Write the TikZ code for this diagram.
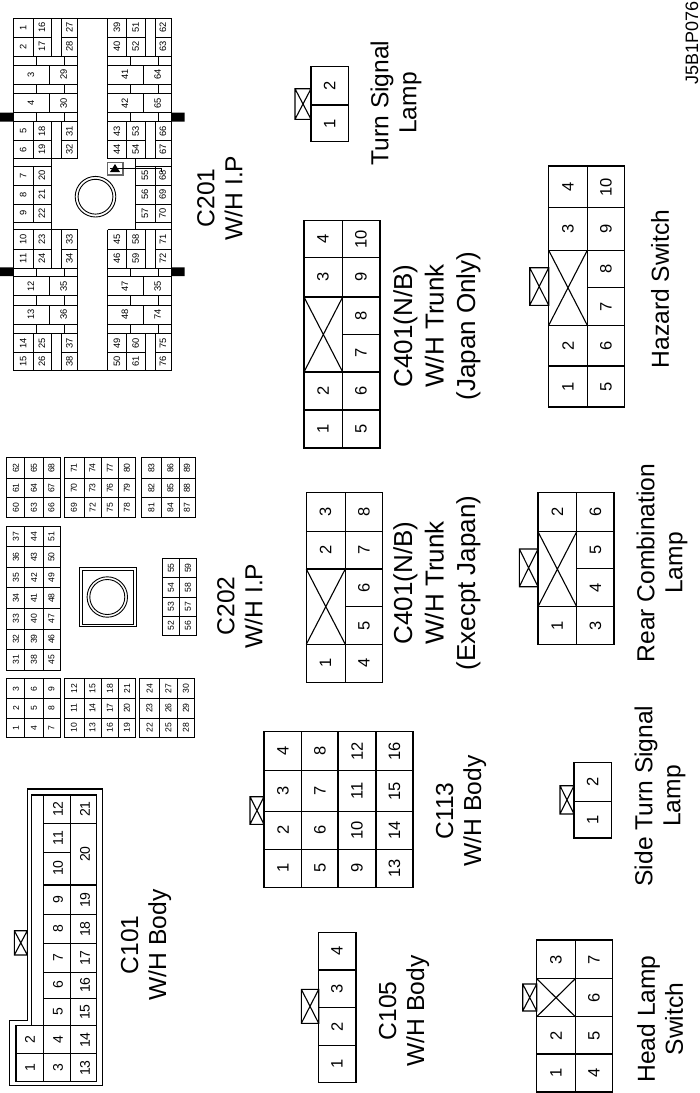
\documentclass[tikz,border=0pt]{standalone}
\usepackage{fontspec}
\setmainfont{Liberation Sans}
\newcommand\fsz[2]{\fontsize{#1}{#2}\selectfont}
\tikzset{
  x=1pt,y=-1pt,
  ln/.style={line width=0.9pt,draw=black},
  lnb/.style={line width=1.1pt,draw=black},
  pinA/.style={rotate=90,inner sep=0pt,font=\fsz{9.3}{10}},
  pinC/.style={rotate=90,inner sep=0pt,font=\fsz{8.6}{9}},
  pinB/.style={rotate=90,inner sep=0pt,font=\fsz{14}{15}},
  pinD/.style={rotate=90,inner sep=0pt,font=\fsz{16.5}{17}},
  caption/.style={rotate=90,inner sep=0pt,align=center,font=\fsz{24.6}{28}},
  captionL/.style={rotate=90,inner sep=0pt,align=center,font=\fsz{26}{31.5}},
}
% rows of labels: y, then x/text pairs
\newcommand\rowA[2]{\foreach \x/\t in {#2}{\node[pinA] at (\x,#1) {\t};}}
\newcommand\rowC[2]{\foreach \x/\t in {#2}{\node[pinC] at (\x,#1) {\t};}}
\newcommand\rowB[2]{\foreach \x/\t in {#2}{\node[pinB] at (\x,#1) {\t};}}
\newcommand\rowD[2]{\foreach \x/\t in {#2}{\node[pinD] at (\x,#1) {\t};}}
% tab with a cross
\newcommand\xtab[4]{\draw[lnb] (#1,#2) rectangle (#3,#4) (#1,#2) -- (#3,#4) (#1,#4) -- (#3,#2);}
% grid: x-lines, y-lines
\newcommand\hl[3]{\draw[ln] (#2,#1) -- (#3,#1);}
\newcommand\vl[3]{\draw[ln] (#1,#2) -- (#1,#3);}
\newcommand\hb[3]{\draw[lnb] (#2,#1) -- (#3,#1);}
\newcommand\vb[3]{\draw[lnb] (#1,#2) -- (#1,#3);}
\begin{document}
\begin{tikzpicture}
\path[use as bounding box,fill=white] (0,0) rectangle (700,1093);

%% ---- C201 ----
\draw[ln] (13.5,18.5) rectangle (171,370);
\foreach \a/\b in {18.5/158.5,229.5/370}{\vl{77.5}{\a}{\b}\vl{107.5}{\a}{\b}}
% full-width horizontals of both halves
\foreach \y in {56,65,84.5,93.5,112.5,121.5,158.5,229.5,268,276,295.7,305,324.3,333.5}{\hl{\y}{13.5}{77.5}\hl{\y}{107.5}{171}}
% pin rows with gap
\foreach \y in {37,140.5,249,352}{\hl{\y}{13.5}{51}\hl{\y}{61}{77.5}\hl{\y}{107.5}{145}\hl{\y}{155}{171}}
% centre blocks
\foreach \y in {166.5,185,204,222}{\hl{\y}{13.5}{51}\hl{\y}{135}{171}}
\vl{51}{158.5}{229.5}\vl{33}{166.5}{222}
\vl{135}{158.5}{229.5}\vl{155}{166.5}{222}
% pin columns
\foreach \a/\b in {18.5/56,121.5/158.5,229.5/268,333.5/370}{\vl{33}{\a}{\b}\vl{51}{\a}{\b}\vl{61}{\a}{\b}\vl{126.5}{\a}{\b}\vl{145}{\a}{\b}\vl{155}{\a}{\b}}
% band ticks
\foreach \a/\b in {56/65,84.5/93.5,112.5/121.5,268/276,295.7/305,324.3/333.5}{\vl{36.5}{\a}{\b}\vl{64.5}{\a}{\b}\vl{130.5}{\a}{\b}\vl{158}{\a}{\b}}
\foreach \a/\b in {65/84.5,93.5/112.5,276/295.7,305/324.3}{\vl{49.5}{\a}{\b}\vl{143}{\a}{\b}}
% black tabs
\fill[black] (0,112.5) rectangle (13.5,121.5) (171,112.5) rectangle (184.5,121.5) (0,267.3) rectangle (13.5,276) (171,267.3) rectangle (184.5,276);
% centre circle
\draw[ln] (95.5,196.7) circle[radius=20.3] (95.5,196.7) circle[radius=17.4];
% diode mark
\draw[line width=1.1pt,draw=black!60,fill=white] (107.5,162.3) rectangle (123,175);
\fill[black] (115,164) -- (120,172) -- (110,172) -- cycle;
\draw[line width=0.8pt] (110,168.3) -- (161.7,168.3) -- (161.7,171.5);
% labels
\rowA{27.5}{23.2/1,42/16,69.3/27,117/39,135.7/51,163/62}
\rowA{46.5}{23.2/2,42/17,69.3/28,117/40,135.7/52,163/63}
\rowA{74.5}{31/3,63.7/29,125/41,157.7/64}
\rowA{103}{31/4,63.7/30,125/42,157.7/65}
\rowA{131}{23.2/5,42/18,69.3/31,117/43,135.7/53,163/66}
\rowA{149.5}{23.2/6,42/19,69.3/32,117/44,135.7/54,163/67}
\rowA{175.5}{23.2/7,42/20,145/55,162.7/68}
\rowA{194.5}{23.2/8,42/21,145/56,162.7/69}
\rowA{213}{23.2/9,42/22,145/57,162.7/70}
\rowA{239}{23.2/10,42/23,69.3/33,117/45,135.7/58,163/71}
\rowA{258.5}{23.2/11,42/24,69.3/34,117/46,135.7/59,163/72}
\rowA{286}{31/12,63.7/35,125/47,157.7/35}
\rowA{314.5}{31/13,63.7/36,125/48,157.7/74}
\rowA{343}{23.2/14,42/25,69.3/37,117/49,135.7/60,163/75}
\rowA{361}{23.2/15,42/26,69.3/38,117/50,135.7/61,163/76}

%% ---- C202 ----
% upper blocks
\draw[ln] (6,457.7) rectangle (60,517);
\draw[ln] (64.3,457.7) rectangle (135.3,517);
\draw[ln] (141.7,457.7) rectangle (195,517);
\foreach \y in {478.7,497.7}{\hl{\y}{6}{60}\hl{\y}{64.3}{135.3}\hl{\y}{141.7}{195}}
\foreach \x in {24.7,43}{\vl{\x}{457.7}{517}}
\foreach \x in {84,101.3,118.3}{\vl{\x}{457.7}{517}}
\foreach \x in {161.3,179.3}{\vl{\x}{457.7}{517}}
\rowC{468.2}{16/62,34/65,51.5/68,74/71,92.5/74,110/77,127/80,151.5/83,170.3/86,187/89}
\rowC{488.2}{16/61,34/64,51.5/67,74/70,92.5/73,110/76,127/79,151.5/82,170.3/85,187/88}
\rowC{507.3}{16/60,34/63,51.5/66,74/69,92.5/72,110/75,127/78,151.5/81,170.3/84,187/87}
% long block
\draw[ln] (6,526) rectangle (60,670);
\foreach \y in {546.6,567.3,587.9,608.4,629,649.5}{\hl{\y}{6}{60}}
\foreach \x in {24.7,43}{\vl{\x}{526}{670}}
\rowC{536.3}{16/37,34/44,51.5/51}
\rowC{557}{16/36,34/43,51.5/50}
\rowC{577.6}{16/35,34/42,51.5/49}
\rowC{598.2}{16/34,34/41,51.5/48}
\rowC{618.7}{16/33,34/40,51.5/47}
\rowC{639.2}{16/32,34/39,51.5/46}
\rowC{659.8}{16/31,34/38,51.5/45}
% central post
\draw[ln] (79.3,567.7) rectangle (136.3,626.7) (82,570.3) rectangle (133.7,624);
\draw[ln] (107.3,597) circle[radius=20.2] (107.3,597) circle[radius=17.5];
% 52-59 block
\draw[ln] (162.3,558.7) rectangle (196.7,635.3);
\vl{179}{558.7}{635.3}
\foreach \y in {577.7,597,616.3}{\hl{\y}{162.3}{196.7}}
\rowC{568.2}{171/55,188/59}
\rowC{587.3}{171/54,188/58}
\rowC{606.6}{171/53,188/57}
\rowC{625.8}{171/52,188/56}
% lower blocks
\draw[ln] (6,678.7) rectangle (60,737.7);
\draw[ln] (64.3,678.7) rectangle (135.3,737.7);
\draw[ln] (139.7,678.7) rectangle (194.7,737.7);
\foreach \y in {698.5,718}{\hl{\y}{6}{60}\hl{\y}{64.3}{135.3}\hl{\y}{139.7}{194.7}}
\foreach \x in {24.7,43,84,101.3,118.3,159.3,177.3}{\vl{\x}{678.7}{737.7}}
\rowC{688.6}{16/3,34/6,51.5/9,74/12,92.5/15,110/18,127/21,149.5/24,168.3/27,186/30}
\rowC{708.2}{16/2,34/5,51.5/8,74/11,92.5/14,110/17,127/20,149.5/23,168.3/26,186/29}
\rowC{727.8}{16/1,34/4,51.5/7,74/10,92.5/13,110/16,127/19,149.5/22,168.3/25,186/28}

%% ---- C101 ----
\draw[lnb] (102.3,789) -- (27.3,789) -- (27.3,1020.3) -- (9.3,1020.3) -- (9.3,1085.7) -- (102.3,1085.7) -- cycle;
\draw[lnb] (96.7,795) -- (31.7,795) -- (31.7,1025.7) -- (16,1025.7) -- (16,1081.7) -- (96.7,1081.7) -- cycle;
\vb{43.7}{795}{1081.7}\vb{70.7}{795}{1081.7}
\hb{823.7}{43.7}{96.7}\hb{852.7}{43.7}{70.7}
\foreach \y in {885,914.3,943.3,972.7,998.3}{\hb{\y}{43.7}{96.7}}
\hb{1025.7}{16}{96.7}\hb{1053.7}{16}{96.7}
\xtab{14.3}{930.7}{27.3}{955}
\rowB{809}{58/12,85/21}
\rowB{838}{58/11}
\rowB{854}{85/20}
\rowB{868}{58/10}
\rowB{900}{58/9,85/19}
\rowB{929}{58/8,85/18}
\rowB{958}{58/7,85/17}
\rowB{985}{58/6,85/16}
\rowB{1012}{58/5,85/15}
\rowB{1040}{30/2,58/4,85/14}
\rowB{1068}{30/1,58/3,85/13}

%% ---- C113 ----
\draw[lnb] (264,731.7) rectangle (413,887.3);
\foreach \x in {301.3,338,376}{\vb{\x}{731.7}{887.3}}
\foreach \y in {770.7,811.3,849.3}{\hb{\y}{264}{413}}
\xtab{250}{796.7}{264}{824.3}
\rowD{751}{283/4,320/8,357/12,394.5/16}
\rowD{791}{283/3,320/7,357/11,394.5/15}
\rowD{830}{283/2,320/6,357/10,394.5/14}
\rowD{868}{283/1,320/5,357/9,394.5/13}

%% ---- C105 ----
\draw[lnb] (318.7,932.7) rectangle (356,1082.3);
\foreach \y in {970,1007.7,1045.7}{\hb{\y}{318.7}{356}}
\xtab{301.3}{989.3}{318.7}{1023.3}
\rowD{951}{337/4}
\rowD{989}{337/3}
\rowD{1026.5}{337/2}
\rowD{1064}{337/1}

%% ---- C401 Japan only ----
\draw[lnb] (304,220.7) rectangle (380,448);
\vb{342.7}{220.7}{448}
\foreach \y in {257.7,297,372,410}{\hb{\y}{304}{380}}
\hb{334.7}{342.7}{380}
\draw[lnb] (304,297) -- (342.7,372) (304,372) -- (342.7,297);
\rowD{239}{323/4,361/10}
\rowD{277}{323/3,361/9}
\rowD{316}{361/8}
\rowD{353}{361/7}
\rowD{391}{323/2,361/6}
\rowD{429}{323/1,361/5}

%% ---- C401 except Japan ----
\draw[lnb] (306.3,492.3) rectangle (382.3,682.3);
\vb{345.3}{492.3}{682.3}
\foreach \y in {531.7,569,644.3}{\hb{\y}{306.3}{382.3}}
\hb{606.7}{345.3}{382.3}
\draw[lnb] (306.3,569) -- (345.3,644.3) (306.3,644.3) -- (345.3,569);
\rowD{512}{325.5/3,364/8}
\rowD{550}{325.5/2,364/7}
\rowD{588}{364/6}
\rowD{625.5}{364/5}
\rowD{663}{325.5/1,364/4}

%% ---- Hazard switch ----
\draw[lnb] (548.7,166) rectangle (624.7,407);
\vb{587.3}{166}{407}
\foreach \y in {207.7,250.3,325.3,366}{\hb{\y}{548.7}{624.7}}
\hb{287.7}{587.3}{624.7}
\draw[lnb] (548.7,250.3) -- (587.3,325.3) (548.7,325.3) -- (587.3,250.3);
\xtab{529.7}{267.7}{548.7}{305.3}
\rowD{187}{568/4,606/10}
\rowD{229}{568/3,606/9}
\rowD{269}{606/8}
\rowD{306.5}{606/7}
\rowD{346}{568/2,606/6}
\rowD{386.5}{568/1,606/5}

%% ---- Rear combination lamp ----
\draw[lnb] (538,492.3) rectangle (614,644.7);
\vb{576.7}{492.3}{644.7}
\foreach \y in {531.7,606.7}{\hb{\y}{538}{614}}
\hb{568.7}{576.7}{614}
\draw[lnb] (538,531.7) -- (576.7,606.7) (538,606.7) -- (576.7,531.7);
\xtab{519.3}{549}{538}{586.7}
\rowD{512}{557.3/2,595.5/6}
\rowD{550}{595.5/5}
\rowD{588}{595.5/4}
\rowD{625.7}{557.3/1,595.5/3}

%% ---- Side turn signal lamp ----
\draw[lnb] (574,762.7) rectangle (611.3,838);
\hb{801.3}{574}{611.3}
\xtab{560}{785.7}{574}{814}
\rowD{782}{592.7/2}
\rowD{819.5}{592.7/1}

%% ---- Head lamp switch ----
\draw[lnb] (536.7,940) rectangle (612.3,1092);
\vb{575.3}{940}{1092}
\foreach \y in {978.7,1016.7,1054}{\hb{\y}{536.7}{612.3}}
\draw[lnb] (536.7,978.7) -- (575.3,1016.7) (536.7,1016.7) -- (575.3,978.7);
\xtab{522.7}{984}{536.7}{1011}
\rowD{959.5}{556/3,594/7}
\rowD{997.5}{594/6}
\rowD{1035.5}{556/2,594/5}
\rowD{1073}{556/1,594/4}

%% ---- Turn signal lamp ----
\draw[lnb] (311,66.7) rectangle (348.3,141.7);
\hb{105}{311}{348.3}
\xtab{295}{88.7}{311}{119.3}
\rowD{86}{329.7/2}
\rowD{123.5}{329.7/1}

%% ---- captions ----
\node[caption] at (396,103) {Turn Signal\\Lamp};
\node[caption] at (220,198) {C201\\W/H I.P};
\node[captionL] at (437,326) {C401(N/B)\\W/H Trunk\\(Japan Only)};
\node[caption] at (660,289) {Hazard Switch};
\node[caption] at (240,606) {C202\\W/H I.P};
\node[captionL] at (437,583) {C401(N/B)\\W/H Trunk\\(Execpt Japan)};
\node[caption] at (662,563) {Rear Combination\\Lamp};
\node[caption] at (461,811) {C113\\W/H Body};
\node[caption] at (660,796) {Side Turn Signal\\Lamp};
\node[caption] at (146,945) {C101\\W/H Body};
\node[caption] at (404,1011) {C105\\W/H Body};
\node[caption] at (660,1019) {Head Lamp\\Switch};
\node[rotate=90,inner sep=0pt,font=\fsz{18}{19}] at (692,43) {J5B1P076};
\end{tikzpicture}
\end{document}
